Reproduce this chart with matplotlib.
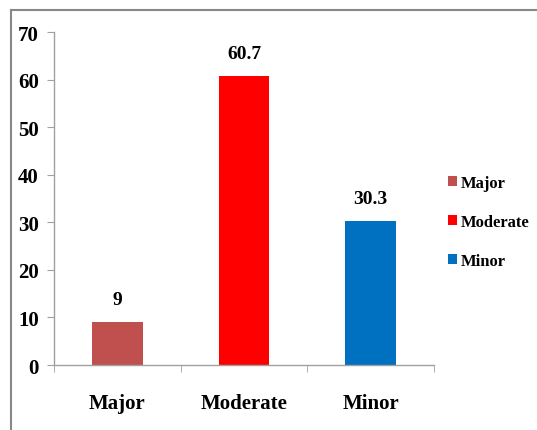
import matplotlib.pyplot as plt
from matplotlib.lines import Line2D
from matplotlib.patches import Patch

categories = ['Major', 'Moderate', 'Minor']
values = [9, 60.7, 30.3]
value_labels = ['9', '60.7', '30.3']
colors = ['#C0504D', '#FF0000', '#0070C0']

plt.rcParams['font.family'] = 'serif'
plt.rcParams['font.serif'] = ['Liberation Serif', 'DejaVu Serif']
plt.rcParams['font.weight'] = 'bold'

fig = plt.figure(figsize=(5.37, 4.31), dpi=100)
ax = fig.add_axes([0.1006, 0.1508, 0.7076, 0.7726])

x = range(len(categories))
bars = ax.bar(x, values, width=0.4, color=colors, zorder=2)
for b, lab in zip(bars, value_labels):
    ax.annotate(lab, (b.get_x() + b.get_width() / 2, b.get_height()),
                xytext=(0, 10), textcoords='offset points',
                ha='center', va='bottom', fontsize=14, fontweight='bold')

ax.set_xlim(-0.5, 2.5)
ax.set_ylim(0, 70)
ax.set_yticks(range(0, 71, 10))
ax.set_xticks(list(x))
ax.set_xticklabels(categories)
ax.set_xticks([-0.5, 0.5, 1.5, 2.5], minor=True)
ax.tick_params(axis='x', which='major', length=0, pad=20, labelsize=15)
ax.tick_params(axis='x', which='minor', length=5, color='#A0A0A0', direction='out')
ax.tick_params(axis='y', length=5, color='#A0A0A0', labelsize=15, pad=6)
for lab in ax.get_xticklabels() + ax.get_yticklabels():
    lab.set_fontweight('bold')

for s in ['top', 'right']:
    ax.spines[s].set_visible(False)
for s in ['left', 'bottom']:
    ax.spines[s].set_color('#A0A0A0')
    ax.spines[s].set_linewidth(1.0)

handles = [Patch(facecolor=c, label=n) for c, n in zip(colors, categories)]
leg = fig.legend(handles=handles, loc='center left', bbox_to_anchor=(0.834, 0.4826),
                 frameon=False, borderpad=0, borderaxespad=0,
                 handlelength=0.55, handleheight=0.55,
                 handletextpad=0.2, labelspacing=1.4,
                 prop={'size': 12, 'weight': 'bold'})

# outer frame lines
w, h = 537, 431
fig.add_artist(Line2D([11 / w, 1], [1 - 10.5 / h, 1 - 10.5 / h], color='#888888', lw=1.5,
                      transform=fig.transFigure))
fig.add_artist(Line2D([11 / w, 11 / w], [0, 1 - 10.5 / h], color='#888888', lw=1.5,
                      transform=fig.transFigure))

fig.savefig('out.png', dpi=100)
